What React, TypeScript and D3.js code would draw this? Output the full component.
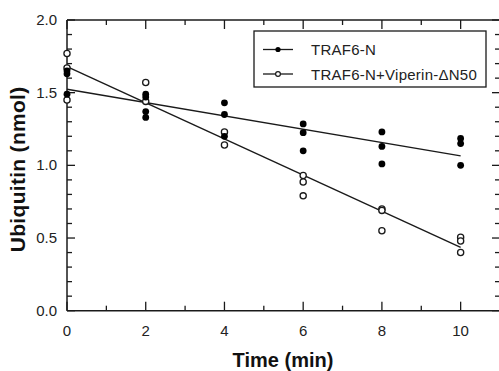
import React from "react";
import * as d3 from "d3";

// measured values (nmol) per time point
const times = [0, 2, 4, 6, 8, 10];
const traf6 = [
  [1.65, 1.63, 1.49],
  [1.49, 1.47, 1.37, 1.33],
  [1.43, 1.35, 1.2],
  [1.285, 1.225, 1.1],
  [1.23, 1.13, 1.01],
  [1.185, 1.15, 1.0],
];
const traf6Viperin = [
  [1.77, 1.67, 1.45],
  [1.57, 1.44],
  [1.23, 1.14],
  [0.93, 0.885, 0.79],
  [0.7, 0.69, 0.55],
  [0.505, 0.48, 0.4],
];
// linear fits, read at t = 0 and t = 10
const fitTimes = [0, 10];
const traf6Fit = [1.524, 1.065];
const traf6ViperinFit = [1.68, 0.436];

const xTicks = [0, 2, 4, 6, 8, 10];
const xMinor = [1, 3, 5, 7, 9, 11];
const yTicks = [0, 0.5, 1.0, 1.5, 2.0];
const legendLabels = ["TRAF6-N", "TRAF6-N+Viperin-\u0394N50"];

const font = "'Liberation Sans', Arial, sans-serif";

export default function App() {
  const W = 499;
  const H = 371;
  const m = { left: 67, top: 20, right: 500, bottom: 310.7 };

  const x = d3.scaleLinear().domain([0, 11]).range([m.left, m.right]);
  const y = d3.scaleLinear().domain([0, 2]).range([m.bottom, m.top]);
  const line = d3
    .line<number>()
    .x((d, i) => x(fitTimes[i]))
    .y((d) => y(d));

  const yMinor = d3.range(0, 21).map((d) => d / 10).filter((d) => Math.round(d * 10) % 5 !== 0);

  const stroke = "#1a1a1a";

  return (
    <svg
      width={W}
      height={H}
      style={{ position: "absolute", left: 0, top: 0, background: "#fff" }}
      fontFamily={font}
    >
      {/* frame */}
      <g stroke={stroke} strokeWidth={1.5} fill="none">
        <line x1={x(0)} x2={x(11)} y1={y(0)} y2={y(0)} />
        <line x1={x(0)} x2={x(11)} y1={y(2)} y2={y(2)} />
        <line x1={x(0)} x2={x(0)} y1={y(0)} y2={y(2)} />
        <line x1={x(11)} x2={x(11)} y1={y(0)} y2={y(2)} />
      </g>
      {/* x ticks */}
      <g stroke={stroke} strokeWidth={1.3}>
        {xTicks.map((t) => (
          <g key={"xt" + t}>
            <line x1={x(t)} x2={x(t)} y1={y(0)} y2={y(0) - 9} />
            <line x1={x(t)} x2={x(t)} y1={y(2)} y2={y(2) + 9} />
          </g>
        ))}
        {xMinor.map((t) => (
          <g key={"xm" + t}>
            <line x1={x(t)} x2={x(t)} y1={y(0)} y2={y(0) - 5} />
            <line x1={x(t)} x2={x(t)} y1={y(2)} y2={y(2) + 5} />
          </g>
        ))}
        {yTicks.map((t) => (
          <g key={"yt" + t}>
            <line x1={x(0)} x2={x(0) + 8} y1={y(t)} y2={y(t)} />
            <line x1={x(11)} x2={x(11) - 8} y1={y(t)} y2={y(t)} />
          </g>
        ))}
        {yMinor.map((t) => (
          <g key={"ym" + t}>
            <line x1={x(0)} x2={x(0) + 5} y1={y(t)} y2={y(t)} />
            <line x1={x(11)} x2={x(11) - 5} y1={y(t)} y2={y(t)} />
          </g>
        ))}
      </g>
      {/* tick labels */}
      <g fontSize={15} fill="#222">
        {xTicks.map((t) => (
          <text key={"xl" + t} x={x(t)} y={336} textAnchor="middle">
            {t}
          </text>
        ))}
        {yTicks.map((t) => (
          <text key={"yl" + t} x={x(0) - 10} y={y(t) + 5} textAnchor="end">
            {t.toFixed(1)}
          </text>
        ))}
      </g>
      {/* axis titles */}
      <text x={283} y={367} textAnchor="middle" fontSize={20} fontWeight="bold" fill="#111">
        Time (min)
      </text>
      <text
        transform={`translate(25,${(m.top + m.bottom) / 2 + 4}) rotate(-90)`}
        textAnchor="middle"
        fontSize={21}
        letterSpacing={0.3}
        fontWeight="bold"
        fill="#111"
      >
        Ubiquitin (nmol)
      </text>
      {/* fit lines */}
      <path d={line(traf6Fit) || ""} fill="none" stroke={stroke} strokeWidth={1.4} />
      <path d={line(traf6ViperinFit) || ""} fill="none" stroke={stroke} strokeWidth={1.4} />
      {/* points */}
      {traf6Viperin.map((vals, i) =>
        vals.map((v, j) => (
          <circle key={`o${i}-${j}`} cx={x(times[i])} cy={y(v)} r={3.1} fill="#fff" stroke={stroke} strokeWidth={1.3} />
        ))
      )}
      {traf6.map((vals, i) =>
        vals.map((v, j) => (
          <circle key={`f${i}-${j}`} cx={x(times[i])} cy={y(v)} r={3.4} fill="#000" />
        ))
      )}
      {/* legend */}
      <g>
        <rect x={254} y={31} width={232} height={56} fill="#fff" stroke={stroke} strokeWidth={1.3} />
        {legendLabels.map((lab, i) => (
          <g key={lab} transform={`translate(0,${49.5 + i * 24.5})`}>
            <line x1={263} x2={293} y1={0} y2={0} stroke={stroke} strokeWidth={1.3} />
            {i === 0 ? (
              <circle cx={278} cy={0} r={2.6} fill="#000" />
            ) : (
              <circle cx={278} cy={0} r={2.4} fill="#fff" stroke={stroke} strokeWidth={1.2} />
            )}
            <text x={311} y={5.5} fontSize={15} letterSpacing={0.25} fill="#222">
              {lab}
            </text>
          </g>
        ))}
      </g>
    </svg>
  );
}
